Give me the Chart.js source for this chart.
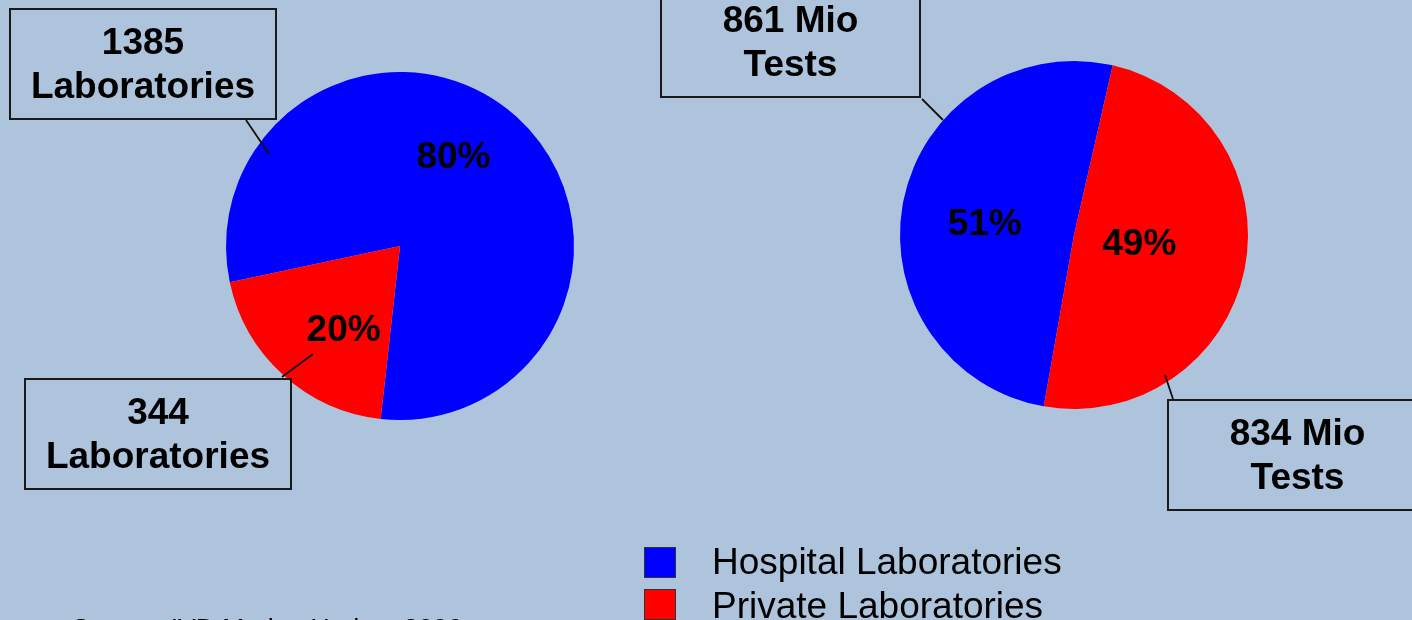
<!DOCTYPE html>
<html>
<head>
<meta charset="utf-8">
<script src="https://cdn.jsdelivr.net/npm/chart.js@4.4.0/dist/chart.umd.min.js"></script>
<style>
  html, body { margin: 0; padding: 0; }
  body {
    width: 1412px; height: 620px; position: relative; overflow: hidden;
    background: #aec4dc;
    font-family: "Liberation Sans", Arial, sans-serif;
  }
  canvas { position: absolute; top: 0; }
  #pieLabs { left: 0; }
  #pieTests { left: 706px; }
  .box {
    position: absolute; box-sizing: border-box;
    border: 2px solid #1a1a1a;
    display: flex; align-items: center; justify-content: center;
    text-align: center; font-weight: bold; font-size: 37px; line-height: 44px;
    color: #000; width: 268px; height: 112px;
  }
  .leg-sq { position: absolute; left: 644px; width: 32px; height: 31px; box-sizing: border-box; border: 1px solid #333; }
  .leg-tx { position: absolute; left: 712px; font-size: 37px; line-height: 44px; color: #000; white-space: nowrap; }
  #source { position: absolute; left: 72px; top: 613px; font-size: 26.5px; line-height: 30px; color: #000; white-space: nowrap; }
</style>
</head>
<body>
<canvas id="pieLabs" width="706" height="620"></canvas>
<canvas id="pieTests" width="706" height="620"></canvas>

<div class="box" id="boxLab0" style="left:9px; top:8px;"></div>
<div class="box" id="boxLab1" style="left:24px; top:378px;"></div>
<div class="box" id="boxTest0" style="left:660px; top:-14px; width:261px;"></div>
<div class="box" id="boxTest1" style="left:1167px; top:399px; width:261px;"></div>

<div id="legend"></div>
<div id="source">Source: IVD Market Update 2006</div>

<script>
// data
var categories = ['Hospital Laboratories', 'Private Laboratories'];
var labCounts = [1385, 344];      // number of laboratories
var testCounts = [861, 834];      // Mio tests per year
var colors = ['#0000ff', '#ff0000'];

// boxes with the absolute numbers
document.getElementById('boxLab0').innerHTML = labCounts[0] + '<br>Laboratories';
document.getElementById('boxLab1').innerHTML = labCounts[1] + '<br>Laboratories';
document.getElementById('boxTest0').innerHTML = testCounts[0] + ' Mio<br>Tests';
document.getElementById('boxTest1').innerHTML = testCounts[1] + ' Mio<br>Tests';

// legend
var legend = document.getElementById('legend');
categories.forEach(function (name, i) {
    var sq = document.createElement('div');
    sq.className = 'leg-sq';
    sq.style.top = (547 + i * 42) + 'px';
    sq.style.background = colors[i];
    legend.appendChild(sq);
    var tx = document.createElement('div');
    tx.className = 'leg-tx';
    tx.style.top = (540 + i * 44) + 'px';
    tx.textContent = name;
    legend.appendChild(tx);
});

// percent labels + leader lines
var pieExtras = {
    id: 'pieExtras',
    afterDatasetsDraw: function (chart, args, opts) {
        var ctx = chart.ctx;
        var data = chart.data.datasets[0].data;
        var total = data.reduce(function (a, b) { return a + b; }, 0);
        var arcs = chart.getDatasetMeta(0).data;
        ctx.save();
        ctx.font = 'bold 37px "Liberation Sans", Arial, sans-serif';
        ctx.fillStyle = '#000';
        ctx.textAlign = 'center';
        ctx.textBaseline = 'alphabetic';
        arcs.forEach(function (arc, i) {
            var p = arc.tooltipPosition();
            var off = opts.offsets[i];
            ctx.fillText(Math.round(data[i] / total * 100) + '%', p.x + off[0], p.y + off[1] + 13);
        });
        ctx.strokeStyle = '#111';
        ctx.lineWidth = 1.8;
        opts.leaders.forEach(function (l) {
            ctx.beginPath();
            ctx.moveTo(l[0], l[1]);
            ctx.lineTo(l[2], l[3]);
            ctx.stroke();
        });
        ctx.restore();
    }
};

function makePie(id, values, rotation, padding, offsets, leaders) {
    var ctx = document.getElementById(id).getContext('2d');
    return new Chart(ctx, {
        type: 'pie',
        data: {
            labels: categories,
            datasets: [{
                data: values,
                backgroundColor: colors,
                borderWidth: 0,
                hoverOffset: 0,
                offset: 0
            }]
        },
        options: {
            responsive: false,
            animation: false,
            rotation: rotation,
            layout: { padding: padding },
            events: [],
            plugins: {
                legend: { display: false },
                tooltip: { enabled: false },
                pieExtras: { offsets: offsets, leaders: leaders }
            }
        },
        plugins: [pieExtras]
    });
}

// left pie: number of labs
var chartLabs = makePie('pieLabs', labCounts, 258,
    { left: 226, right: 132, top: 72, bottom: 200 },
    [[-5, -27], [2, 18]],
    [[246, 120, 269, 154], [313, 354, 282, 377]]);

// right pie: number of tests
var chartTests = makePie('pieTests', testCounts, 190,
    { left: 194, right: 164, top: 61, bottom: 211 },
    [[-4, 4], [-20, -10]],
    [[216, 99, 237, 120], [459, 375, 467, 399]]);
</script>
</body>
</html>
